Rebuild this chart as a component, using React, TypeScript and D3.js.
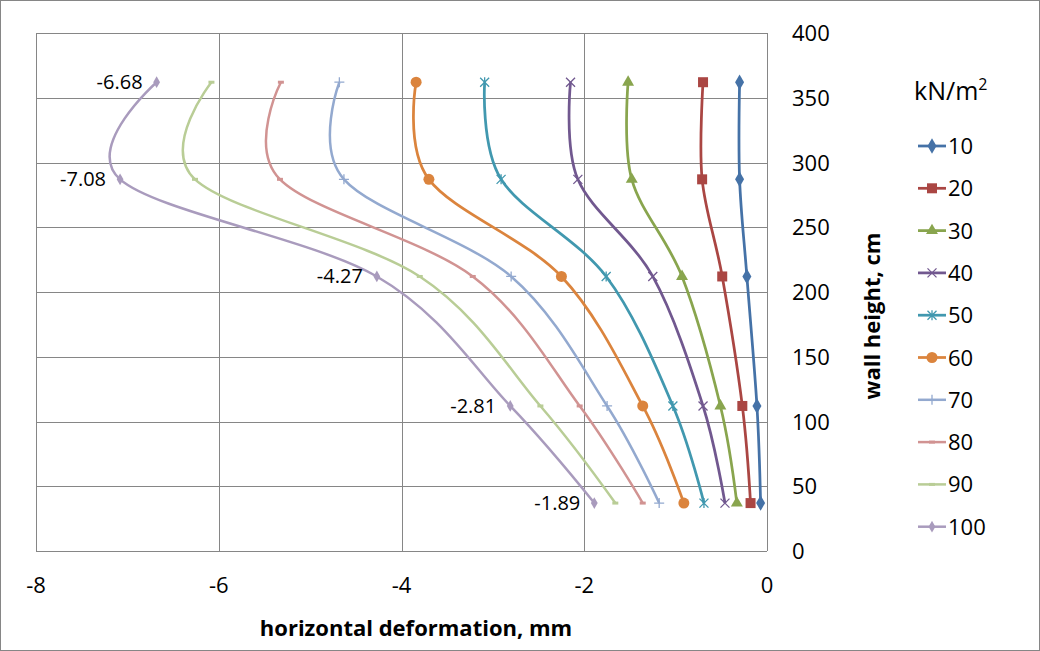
import React from 'react';
import * as d3 from 'd3';

// wall heights (cm) at which deformation was measured
const heights = [37, 112, 212, 287, 362];

// load levels (kN/m2)
const seriesNames = ['10', '20', '30', '40', '50', '60', '70', '80', '90', '100'];

// horizontal deformation (mm), ordered by height
const s10 = [-0.07, -0.11, -0.22, -0.3, -0.3];
const s20 = [-0.18, -0.27, -0.49, -0.71, -0.7];
const s30 = [-0.33, -0.51, -0.93, -1.48, -1.52];
const s40 = [-0.46, -0.7, -1.25, -2.07, -2.15];
const s50 = [-0.69, -1.03, -1.76, -2.91, -3.09];
const s60 = [-0.91, -1.36, -2.25, -3.7, -3.84];
const s70 = [-1.18, -1.75, -2.8, -4.63, -4.68];
const s80 = [-1.36, -2.05, -3.22, -5.33, -5.32];
const s90 = [-1.66, -2.48, -3.8, -6.26, -6.08];
const s100 = [-1.89, -2.81, -4.27, -7.08, -6.68];

const seriesValues = [s10, s20, s30, s40, s50, s60, s70, s80, s90, s100];
const seriesColors = ['#4572A7', '#AA4643', '#89A54E', '#71588F', '#4198AF', '#DB843D', '#93A9CF', '#D19392', '#B9CD96', '#A99BBD'];
const markerTypes = ['diamond', 'square', 'triangle', 'x', 'star', 'circle', 'plus', 'dash', 'dash', 'smalldiamond'];
const lineWidths = [2.75, 2.75, 2.75, 2.75, 2.75, 2.75, 2.5, 2.5, 2.5, 2.5];

const xTicks = [-8, -6, -4, -2, 0];
const yTicks = [0, 50, 100, 150, 200, 250, 300, 350, 400];

const FONT = "'Open Sans', 'Noto Sans', sans-serif";
const GRID = '#868686';

function Marker({ type, cx, cy, color }: { type: string; cx: number; cy: number; color: string }) {
  const t = `translate(${cx},${cy})`;
  switch (type) {
    case 'diamond':
      return <path transform={t} d={d3.symbol(d3.symbolDiamond, 70)() as string} fill={color} />;
    case 'smalldiamond':
      return <path transform={t} d={d3.symbol(d3.symbolDiamond, 40)() as string} fill={color} />;
    case 'square':
      return <rect x={cx - 5} y={cy - 5} width={10} height={10} fill={color} />;
    case 'triangle':
      return <path transform={t} d={d3.symbol(d3.symbolTriangle, 62)() as string} fill={color} />;
    case 'circle':
      return <circle cx={cx} cy={cy} r={5.5} fill={color} />;
    case 'x':
      return <path transform={t} d="M-4.5,-4.5L4.5,4.5M-4.5,4.5L4.5,-4.5" stroke={color} strokeWidth={1.3} fill="none" />;
    case 'star':
      return <path transform={t} d="M-4.5,-4.5L4.5,4.5M-4.5,4.5L4.5,-4.5M0,-5V5" stroke={color} strokeWidth={1.3} fill="none" />;
    case 'plus':
      return <path transform={t} d="M-5,0H5M0,-5V5" stroke={color} strokeWidth={1.3} fill="none" />;
    case 'dash':
      return <path transform={t} d="M-3,0H3" stroke={color} strokeWidth={3} fill="none" />;
    default:
      return null;
  }
}

export default function App() {
  const W = 1040;
  const H = 651;
  const x = d3.scaleLinear().domain([-8, 0]).range([36, 767]);
  const y = d3.scaleLinear().domain([0, 400]).range([551, 33]);
  const line = d3
    .line<[number, number]>()
    .x((d) => x(d[0]))
    .y((d) => y(d[1]))
    .curve(d3.curveCatmullRom.alpha(0));

  const legendX0 = 918;
  const legendX1 = 946;
  const legendY0 = 146;
  const legendStep = 42.3;

  return (
    <div style={{ position: 'absolute', left: 0, top: 0 }}>
      <svg width={W} height={H} style={{ display: 'block', background: '#fff' }} fontFamily={FONT}>
        <rect x={0.5} y={0.5} width={W - 1} height={H - 1} fill="#fff" stroke={GRID} strokeWidth={1} />
        {/* grid */}
        {yTicks.map((t) => (
          <line key={'gy' + t} x1={x(-8)} x2={x(0)} y1={Math.round(y(t)) + 0.5} y2={Math.round(y(t)) + 0.5} stroke={GRID} strokeWidth={1} />
        ))}
        {xTicks.map((t) => (
          <line key={'gx' + t} x1={Math.round(x(t)) + 0.5} x2={Math.round(x(t)) + 0.5} y1={y(400)} y2={y(0)} stroke={GRID} strokeWidth={1} />
        ))}
        {/* x tick labels */}
        {xTicks.map((t) => (
          <text key={'xt' + t} x={x(t)} y={593} textAnchor="middle" fontSize={22} fill="#000">
            {String(t)}
          </text>
        ))}
        {/* y tick labels */}
        {yTicks.map((t) => (
          <text key={'yt' + t} x={792} y={y(t) + 8} textAnchor="start" fontSize={22} fill="#000">
            {String(t)}
          </text>
        ))}
        {/* axis titles */}
        <text x={416} y={636} textAnchor="middle" fontSize={22} fontWeight="bold" fill="#000">
          horizontal deformation, mm
        </text>
        <text transform={`translate(880,316) rotate(-90)`} textAnchor="middle" fontSize={22} fontWeight="bold" fill="#000">
          wall height, cm
        </text>
        {/* series */}
        {seriesValues.map((vals, i) => {
          const pts: [number, number][] = vals.map((v, j) => [v, heights[j]]);
          return (
            <g key={'s' + i}>
              <path d={line(pts) as string} fill="none" stroke={seriesColors[i]} strokeWidth={lineWidths[i]} />
              {pts.map((p, j) => (
                <Marker key={j} type={markerTypes[i]} cx={x(p[0])} cy={y(p[1])} color={seriesColors[i]} />
              ))}
            </g>
          );
        })}
        {/* data labels for last series */}
        {s100.map((v, j) => (
          <text key={'dl' + j} x={x(v) - 14} y={y(heights[j]) + 7} textAnchor="end" fontSize={20} fill="#000">
            {v.toFixed(2)}
          </text>
        ))}
        {/* legend */}
        <text x={914} y={100} fontSize={25} fill="#000">
          kN/m<tspan fontSize={16} dy={-10}>2</tspan>
        </text>
        {seriesNames.map((name, i) => {
          const ly = legendY0 + i * legendStep;
          return (
            <g key={'lg' + i}>
              <line x1={legendX0} x2={legendX1} y1={ly} y2={ly} stroke={seriesColors[i]} strokeWidth={lineWidths[i]} />
              <Marker type={markerTypes[i]} cx={(legendX0 + legendX1) / 2} cy={ly} color={seriesColors[i]} />
              <text x={948} y={ly + 8} fontSize={22} fill="#000">
                {name}
              </text>
            </g>
          );
        })}
      </svg>
    </div>
  );
}
